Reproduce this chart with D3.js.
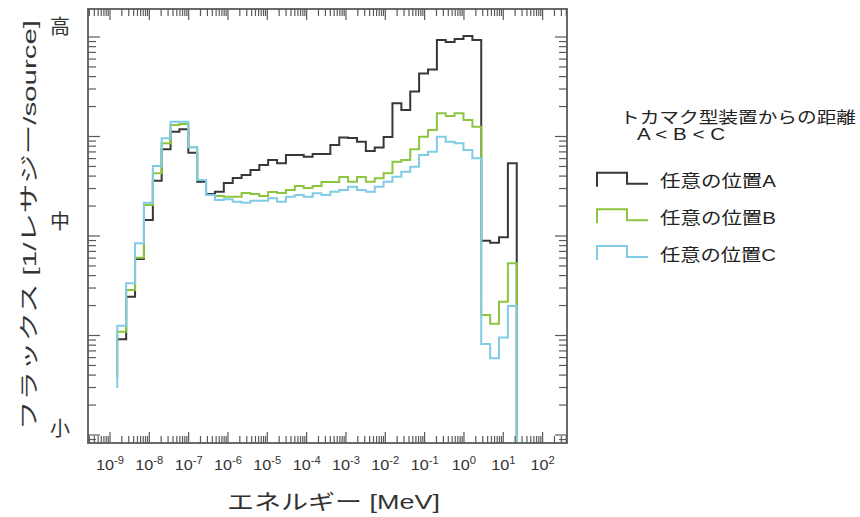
<!DOCTYPE html>
<html>
<head>
<meta charset="utf-8">
<script src="https://cdn.jsdelivr.net/npm/d3@7"></script>
<style>
  body { margin: 0; background: #fff; }
  svg { display: block; }
</style>
</head>
<body>
<svg id="chart" width="860" height="517"></svg>
<script>
// Energy bin edges [MeV], equal-lethargy group structure
const binEdges = [1.53e-9, 2.58e-9, 4.34e-9, 7.30e-9, 1.23e-8, 2.06e-8, 3.47e-8, 5.83e-8,
  9.81e-8, 1.65e-7, 2.77e-7, 4.66e-7, 7.84e-7, 1.32e-6, 2.22e-6, 3.73e-6, 6.27e-6,
  1.05e-5, 1.77e-5, 2.98e-5, 5.01e-5, 8.43e-5, 1.42e-4, 2.38e-4, 4.01e-4, 6.74e-4,
  1.13e-3, 1.91e-3, 3.20e-3, 5.39e-3, 9.06e-3, 1.52e-2, 2.56e-2, 4.31e-2, 7.24e-2,
  0.122, 0.205, 0.344, 0.579, 0.973, 1.64, 2.75, 4.63, 7.78, 13.1, 22.0];

// Flux per lethargy in each bin (relative units), one array per location
const fluxA = [9.16, 24.5, 58.7, 145, 360, 743, 1117, 1181, 687, 351,
  264, 279, 341, 383, 410, 460, 517, 580, 538, 652,
  652, 627, 667, 667, 822, 977, 966, 887, 715, 775,
  988, 2158, 1846, 2833, 4298, 4713, 9333, 8913, 9550, 10232,
  9333, 89.7, 85.6, 97.0, 538];
const fluxB = [10.9, 28.7, 60.5, 205, 427, 855, 1306, 1336, 779, 365,
  258, 252, 248, 248, 270, 264, 252, 277, 270, 290,
  318, 304, 318, 349, 349, 392, 351, 392, 351, 380,
  427, 558, 580, 743, 995, 1161, 1711, 1607, 1711, 1465,
  1254, 16.1, 13.1, 21.9, 53.2];
const fluxC = [12.5, 33.5, 84.5, 216, 505, 959, 1409, 1409, 779, 365,
  258, 230, 234, 221, 216, 226, 226, 239, 221, 248,
  258, 248, 269, 258, 279, 290, 313, 290, 279, 313,
  351, 394, 443, 497, 652, 703, 995, 887, 855, 731,
  604, 8.22, 5.90, 9.55, 19.8];
// value the histogram outline rises from at the lowest edge
const leadValues = [8.6, 3.74, 2.97];

const seriesNames = ["任意の位置A", "任意の位置B", "任意の位置C"];
const seriesColors = ["#383838", "#8cc63f", "#80cbe6"];

const xTickExponents = [-9, -8, -7, -6, -5, -4, -3, -2, -1, 0, 1, 2];
const yTickLabels = ["高", "中", "小"];
const yTickLabelValues = [12600, 138, 1.15];

const xTitle = "エネルギー [MeV]";
const yTitle = "フラックス [1/レサジー/source]";
const legendTitle = ["トカマク型装置からの距離", "A < B < C"];

const svg = d3.select("#chart");
const plot = { left: 88, right: 567, top: 9, bottom: 443 };
const frameColor = "#5a5a5a";
const textColor = "#333";
const font = "'Liberation Sans', 'Noto Sans CJK JP', sans-serif";

const x = d3.scaleLog().domain([Math.pow(10, -9.559), Math.pow(10, 2.62)]).range([plot.left, plot.right]);
const y = d3.scaleLog().domain([Math.pow(10, -0.0804), Math.pow(10, 4.2814)]).range([plot.bottom, plot.top]);

function logTicks(domain) {
  const out = [];
  const lo = Math.floor(Math.log10(domain[0])), hi = Math.ceil(Math.log10(domain[1]));
  for (let e = lo; e <= hi; e++) {
    for (let m = 1; m <= 9; m++) {
      const v = m * Math.pow(10, e);
      if (v >= domain[0] && v <= domain[1]) out.push({ v, major: m === 1 });
    }
  }
  return out;
}

svg.append("clipPath").attr("id", "plotClip").append("rect")
  .attr("x", plot.left).attr("y", plot.top)
  .attr("width", plot.right - plot.left).attr("height", plot.bottom - plot.top);

// histogram outlines
const stepLine = d3.line().x(d => x(d[0])).y(d => y(d[1])).curve(d3.curveStepAfter);
const floorValue = y.domain()[0];
[fluxA, fluxB, fluxC].forEach((vals, i) => {
  const pts = [[binEdges[0], leadValues[i]]];
  vals.forEach((v, k) => pts.push([binEdges[k], v]));
  pts.push([binEdges[binEdges.length - 1], vals[vals.length - 1]]);
  pts.push([binEdges[binEdges.length - 1], floorValue]);
  svg.append("path")
    .attr("clip-path", "url(#plotClip)")
    .attr("d", stepLine(pts))
    .attr("fill", "none")
    .attr("stroke", seriesColors[i])
    .attr("stroke-width", 2)
    .attr("stroke-linejoin", "miter");
});

// frame and inward ticks on all four sides
const majorLen = 11, minorLen = 7;
const ticksG = svg.append("g").attr("stroke", frameColor).attr("stroke-width", 1.2);
logTicks(x.domain()).forEach(t => {
  const px = x(t.v), len = t.major ? majorLen : minorLen;
  ticksG.append("line").attr("x1", px).attr("x2", px).attr("y1", plot.bottom).attr("y2", plot.bottom - len);
  ticksG.append("line").attr("x1", px).attr("x2", px).attr("y1", plot.top).attr("y2", plot.top + len);
});
logTicks(y.domain()).forEach(t => {
  const py = y(t.v), len = t.major ? majorLen + 1 : minorLen + 1;
  ticksG.append("line").attr("y1", py).attr("y2", py).attr("x1", plot.left).attr("x2", plot.left + len);
  ticksG.append("line").attr("y1", py).attr("y2", py).attr("x1", plot.right).attr("x2", plot.right - len);
});
svg.append("rect")
  .attr("x", plot.left).attr("y", plot.top)
  .attr("width", plot.right - plot.left).attr("height", plot.bottom - plot.top)
  .attr("fill", "none").attr("stroke", frameColor).attr("stroke-width", 1.8);

// x tick labels 10^n
xTickExponents.forEach(e => {
  const g = svg.append("g").attr("transform", `translate(${x(Math.pow(10, e))},470) scale(1.12,1)`);
  const t = g.append("text").attr("text-anchor", "middle")
    .attr("font-family", font).attr("fill", textColor).attr("font-size", 14.5);
  t.append("tspan").text("10");
  t.append("tspan").attr("dy", -6).attr("font-size", 10).text(e);
});

// y tick labels
yTickLabels.forEach((s, i) => {
  svg.append("text")
    .attr("x", 60).attr("y", y(yTickLabelValues[i]))
    .attr("text-anchor", "middle").attr("dominant-baseline", "central")
    .attr("font-family", font).attr("font-size", 20).attr("fill", textColor)
    .text(s);
});

// axis titles
svg.append("text")
  .attr("x", 227).attr("y", 509)
  .attr("font-family", font).attr("font-size", 21).attr("fill", textColor)
  .attr("textLength", 213).attr("lengthAdjust", "spacingAndGlyphs")
  .text(xTitle);
svg.append("text")
  .attr("transform", "translate(29.5,225) rotate(-90)")
  .attr("text-anchor", "middle").attr("dominant-baseline", "central")
  .attr("font-family", font).attr("font-size", 19).attr("fill", textColor)
  .attr("textLength", 410).attr("lengthAdjust", "spacingAndGlyphs")
  .text(yTitle);

// legend
svg.append("text")
  .attr("x", 620).attr("y", 123)
  .attr("font-family", font).attr("font-size", 16).attr("fill", "#222")
  .attr("textLength", 236).attr("lengthAdjust", "spacingAndGlyphs")
  .text(legendTitle[0]);
svg.append("text")
  .attr("x", 637).attr("y", 140)
  .attr("font-family", font).attr("font-size", 16.5).attr("fill", "#222")
  .attr("textLength", 88).attr("lengthAdjust", "spacingAndGlyphs")
  .text(legendTitle[1]);

const legendRows = [181.7, 218.3, 255];
seriesNames.forEach((name, i) => {
  const cy = legendRows[i];
  svg.append("path")
    .attr("d", `M597,${cy + 5}V${cy - 9}H627V${cy + 2}H648`)
    .attr("fill", "none").attr("stroke", seriesColors[i]).attr("stroke-width", 2);
  svg.append("text")
    .attr("x", 660).attr("y", cy).attr("dominant-baseline", "central")
    .attr("font-family", font).attr("font-size", 17).attr("fill", "#222")
    .attr("textLength", 116).attr("lengthAdjust", "spacingAndGlyphs")
    .text(name);
});
</script>
</body>
</html>
